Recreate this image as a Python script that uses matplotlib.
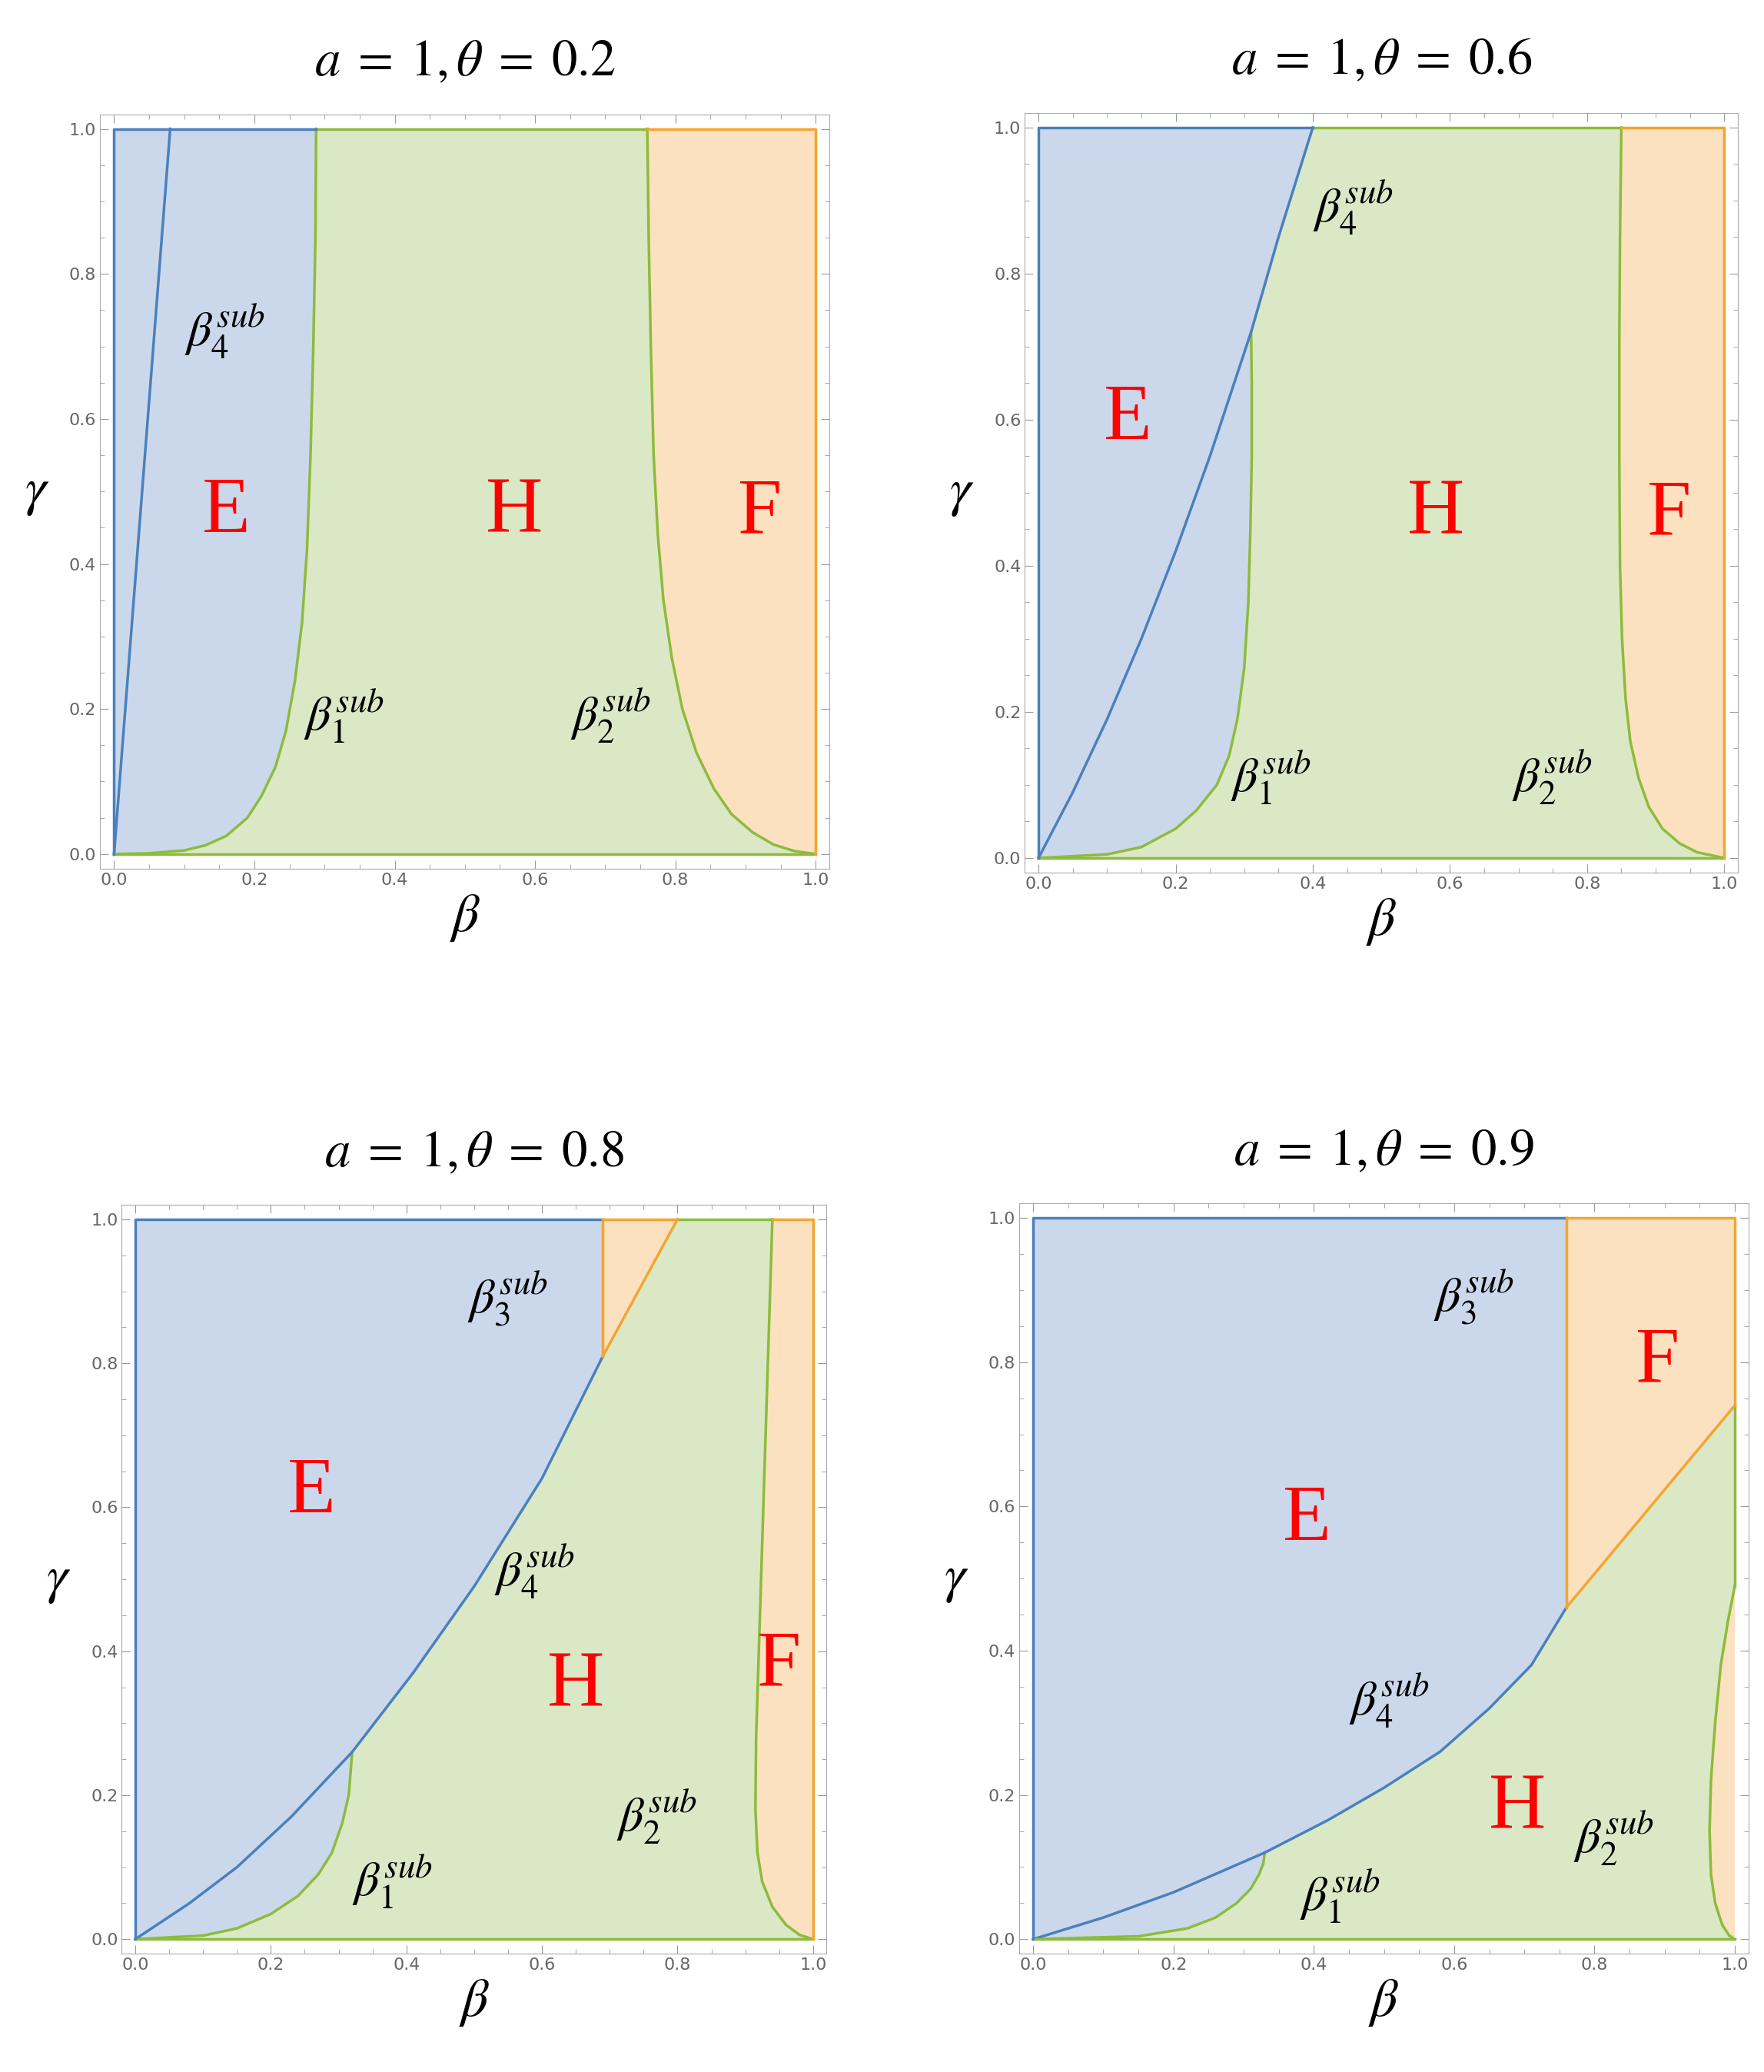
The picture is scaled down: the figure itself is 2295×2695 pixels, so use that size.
import matplotlib
matplotlib.use("Agg")
import matplotlib.pyplot as plt
import numpy as np

plt.rcParams['mathtext.fontset'] = 'stix'

BLUE_F, BLUE_E = '#cbd8eb', '#4a80bd'
GREEN_F, GREEN_E = '#dbe8c6', '#8dbb3c'
ORANGE_F, ORANGE_E = '#fbe1bf', '#f3a530'

titles = ["0.2", "0.6", "0.8", "0.9"]

# panel 1 (theta = 0.2)
p1_b4 = [(0, 0), (0.08, 1.0)]
p1_b1 = [(0, 0), (0.05, 0.001), (0.1, 0.005), (0.13, 0.012), (0.16, 0.025), (0.19, 0.05),
         (0.21, 0.08), (0.23, 0.12), (0.245, 0.17), (0.258, 0.24), (0.268, 0.32),
         (0.275, 0.42), (0.28, 0.55), (0.284, 0.7), (0.287, 0.85), (0.288, 1.0)]
p1_b2 = [(0.76, 1.0), (0.762, 0.85), (0.765, 0.7), (0.769, 0.55), (0.775, 0.44),
         (0.783, 0.35), (0.795, 0.27), (0.81, 0.2), (0.83, 0.14), (0.855, 0.09),
         (0.88, 0.055), (0.91, 0.03), (0.94, 0.013), (0.97, 0.004), (1.0, 0)]

# panel 2 (theta = 0.6)
p2_b4 = [(0, 0), (0.05, 0.09), (0.1, 0.19), (0.15, 0.3), (0.2, 0.42), (0.25, 0.55),
         (0.31, 0.72), (0.35, 0.85), (0.4, 1.0)]
p2_b1 = [(0, 0), (0.1, 0.005), (0.15, 0.015), (0.2, 0.04), (0.23, 0.065), (0.26, 0.1),
         (0.278, 0.14), (0.29, 0.19), (0.3, 0.26), (0.306, 0.35), (0.309, 0.45),
         (0.311, 0.55), (0.311, 0.65), (0.31, 0.72)]
p2_b2 = [(0.85, 1.0), (0.848, 0.85), (0.847, 0.7), (0.847, 0.55), (0.848, 0.4),
         (0.851, 0.3), (0.856, 0.22), (0.863, 0.16), (0.875, 0.11), (0.89, 0.07),
         (0.91, 0.04), (0.935, 0.02), (0.96, 0.008), (1.0, 0)]

# panel 3 (theta = 0.8)
p3_b4 = [(0, 0), (0.08, 0.05), (0.15, 0.1), (0.23, 0.17), (0.32, 0.26), (0.41, 0.37),
         (0.5, 0.49), (0.6, 0.64), (0.69, 0.81), (0.8, 1.0)]
p3_b1 = [(0, 0), (0.1, 0.005), (0.15, 0.015), (0.2, 0.035), (0.24, 0.06), (0.27, 0.09),
         (0.29, 0.12), (0.305, 0.16), (0.315, 0.2), (0.32, 0.26)]
p3_b3 = [(0.69, 0.81), (0.69, 1.0)]
p3_b2 = [(0.94, 1.0), (0.935, 0.85), (0.93, 0.7), (0.925, 0.55), (0.92, 0.4),
         (0.916, 0.28), (0.915, 0.18), (0.918, 0.12), (0.925, 0.08), (0.94, 0.045),
         (0.96, 0.02), (0.98, 0.006), (1.0, 0)]

# panel 4 (theta = 0.9)
p4_b4 = [(0, 0), (0.1, 0.03), (0.2, 0.065), (0.33, 0.12), (0.42, 0.165), (0.5, 0.21),
         (0.58, 0.26), (0.65, 0.32), (0.71, 0.38), (0.76, 0.46)]
p4_b1 = [(0, 0), (0.15, 0.004), (0.22, 0.015), (0.26, 0.03), (0.29, 0.05), (0.31, 0.07),
         (0.322, 0.09), (0.328, 0.105), (0.33, 0.12)]
p4_b3 = [(0.76, 0.46), (0.76, 1.0)]
p4_fo = [(0.76, 0.46), (1.0, 0.74)]
p4_b2 = [(1.0, 0.49), (0.99, 0.44), (0.98, 0.38), (0.972, 0.3), (0.966, 0.22),
         (0.964, 0.15), (0.966, 0.09), (0.972, 0.05), (0.982, 0.02), (0.992, 0.005), (1.0, 0)]

fig = plt.figure(figsize=(22.95, 26.95), dpi=100)
W, H = 1330, 1560
# data-region pixel boxes in the displayed reference (x0, x1, ytop, ybottom)
boxes = [(86, 615, 97, 643), (783, 1300, 96, 646), (102, 613, 918, 1460), (779, 1308, 917, 1460)]
pad = 0.02
axes = []
for (x0, x1, yt, yb) in boxes:
    dw, dh = x1 - x0, yb - yt
    ax = fig.add_axes([(x0 - pad * dw) / W, 1 - (yb + pad * dh) / H,
                       dw * (1 + 2 * pad) / W, dh * (1 + 2 * pad) / H])
    axes.append(ax)

def poly(ax, pts, fc, z=1):
    pts = np.array(pts)
    ax.fill(pts[:, 0], pts[:, 1], color=fc, lw=0, zorder=z)

def line(ax, pts, c):
    pts = np.array(pts)
    ax.plot(pts[:, 0], pts[:, 1], color=c, lw=2.5, zorder=5)

def sub(ax, x, y, i):
    ax.text(x, y, r'$\beta_{%d}^{sub}$' % i, fontsize=46, zorder=6)

def letter(ax, x, y, s):
    ax.text(x, y, s, color='#ff0000', fontsize=74, family='Liberation Serif',
            ha='center', va='center', zorder=6)

# panel 1
ax = axes[0]
poly(ax, [(0, 0), (1, 0), (1, 1), (0, 1)], GREEN_F)
poly(ax, p1_b1 + [(0, 1)], BLUE_F, 2)
poly(ax, p1_b2 + [(1, 1)], ORANGE_F, 2)
line(ax, p1_b1, GREEN_E); line(ax, p1_b2, GREEN_E); line(ax, p1_b4, BLUE_E)
line(ax, [(0, 0), (1, 0)], GREEN_E); line(ax, [(0.288, 1), (0.76, 1)], GREEN_E)
line(ax, [(0, 0), (0, 1), (0.288, 1)], BLUE_E)
line(ax, [(0.76, 1), (1, 1), (1, 0)], ORANGE_E)
letter(ax, 0.16, 0.47, 'E'); letter(ax, 0.57, 0.47, 'H'); letter(ax, 0.92, 0.47, 'F')
sub(ax, 0.1, 0.7, 4); sub(ax, 0.27, 0.17, 1); sub(ax, 0.65, 0.17, 2)

# panel 2
ax = axes[1]
poly(ax, [(0, 0), (1, 0), (1, 1), (0, 1)], GREEN_F)
poly(ax, p2_b1 + [(0.35, 0.85), (0.4, 1), (0, 1)], BLUE_F, 2)
poly(ax, p2_b2 + [(1, 1)], ORANGE_F, 2)
line(ax, p2_b1, GREEN_E); line(ax, p2_b2, GREEN_E); line(ax, p2_b4, BLUE_E)
line(ax, [(0, 0), (1, 0)], GREEN_E); line(ax, [(0.4, 1), (0.85, 1)], GREEN_E)
line(ax, [(0, 0), (0, 1), (0.4, 1)], BLUE_E)
line(ax, [(0.85, 1), (1, 1), (1, 0)], ORANGE_E)
letter(ax, 0.13, 0.6, 'E'); letter(ax, 0.58, 0.47, 'H'); letter(ax, 0.92, 0.47, 'F')
sub(ax, 0.4, 0.87, 4); sub(ax, 0.28, 0.09, 1); sub(ax, 0.69, 0.09, 2)

# panel 3
ax = axes[2]
poly(ax, [(0, 0), (1, 0), (1, 1), (0, 1)], GREEN_F)
poly(ax, p3_b1 + p3_b4[5:9] + [(0.69, 1), (0, 1)], BLUE_F, 2)
poly(ax, [(0.69, 0.81), (0.8, 1), (0.69, 1)], ORANGE_F, 2)
poly(ax, p3_b2 + [(1, 1)], ORANGE_F, 2)
line(ax, p3_b1, GREEN_E); line(ax, p3_b2, GREEN_E); line(ax, p3_b4[:9], BLUE_E)
line(ax, [p3_b4[8], p3_b4[9]], ORANGE_E); line(ax, p3_b3, ORANGE_E)
line(ax, [(0, 0), (1, 0)], GREEN_E); line(ax, [(0.8, 1), (0.94, 1)], GREEN_E)
line(ax, [(0, 0), (0, 1), (0.69, 1)], BLUE_E)
line(ax, [(0.69, 1), (0.8, 1)], ORANGE_E)
line(ax, [(0.94, 1), (1, 1), (1, 0)], ORANGE_E)
letter(ax, 0.26, 0.62, 'E'); letter(ax, 0.65, 0.35, 'H'); letter(ax, 0.95, 0.38, 'F')
sub(ax, 0.49, 0.87, 3); sub(ax, 0.53, 0.49, 4); sub(ax, 0.32, 0.06, 1); sub(ax, 0.71, 0.15, 2)

# panel 4
ax = axes[3]
poly(ax, [(0, 0), (1, 0), (1, 1), (0, 1)], GREEN_F)
poly(ax, p4_b1 + p4_b4[4:] + [(0.76, 1), (0, 1)], BLUE_F, 2)
poly(ax, [(0.76, 0.46), (1, 0.74), (1, 1), (0.76, 1)], ORANGE_F, 2)
poly(ax, p4_b2, ORANGE_F, 2)
line(ax, p4_b1, GREEN_E); line(ax, p4_b2, GREEN_E); line(ax, p4_b4, BLUE_E)
line(ax, p4_b3, ORANGE_E); line(ax, p4_fo, ORANGE_E)
line(ax, [(0, 0), (1, 0)], GREEN_E); line(ax, [(1, 0.49), (1, 0.74)], GREEN_E)
line(ax, [(0, 0), (0, 1), (0.76, 1)], BLUE_E)
line(ax, [(0.76, 1), (1, 1), (1, 0.74)], ORANGE_E)
letter(ax, 0.39, 0.58, 'E'); letter(ax, 0.69, 0.18, 'H'); letter(ax, 0.89, 0.8, 'F')
sub(ax, 0.57, 0.87, 3); sub(ax, 0.45, 0.31, 4); sub(ax, 0.38, 0.04, 1); sub(ax, 0.77, 0.12, 2)

for ax, t in zip(axes, titles):
    ax.set_xlim(-pad, 1 + pad)
    ax.set_ylim(-pad, 1 + pad)
    ticks = np.arange(0, 1.01, 0.2)
    ax.set_xticks(ticks); ax.set_yticks(ticks)
    ax.set_xticks(np.arange(0, 1.01, 0.05), minor=True)
    ax.set_yticks(np.arange(0, 1.01, 0.05), minor=True)
    ax.tick_params(which='both', direction='in', top=True, right=True, color='#999999',
                   labelsize=16, labelcolor='#666666')
    ax.tick_params(which='major', length=8)
    ax.tick_params(which='minor', length=4)
    for s in ax.spines.values():
        s.set_color('#aaaaaa')
    ax.set_xlabel(r'$\beta$', fontsize=50, labelpad=4)
    ax.set_ylabel(r'$\gamma$', fontsize=50, rotation=0, labelpad=30, va='center')
    ax.set_title(r'$a\;=\;1,\theta\;=\;%s$' % t, fontsize=48, pad=36)

fig.savefig('out.png', dpi=100, facecolor='white')
